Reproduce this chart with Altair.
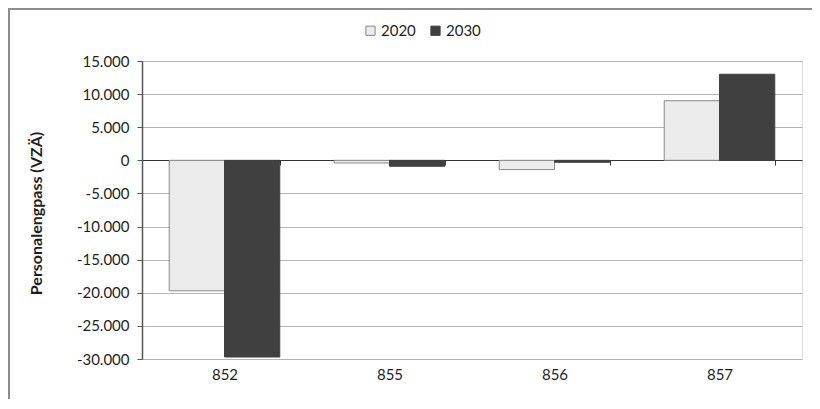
import altair as alt
import pandas as pd

categories = ["852", "855", "856", "857"]
years = ["2020", "2030"]
v2020 = [-19700, -400, -1400, 9000]
v2030 = [-29700, -900, -300, 13000]
y_ticks = [15000, 10000, 5000, 0, -5000, -10000, -15000, -20000, -25000, -30000]

rows = []
for c, a, b in zip(categories, v2020, v2030):
    rows.append({"cat": c, "year": "2020", "value": a})
    rows.append({"cat": c, "year": "2030", "value": b})
df = pd.DataFrame(rows)

FONT = "Lato"
W, H = 660, 298
TXT = "#1e1e1e"

label_expr = "replace(replace(format(datum.value, ','), ',', '.'), '\u2212', '-')"

leg = dict(orient="none", legendX=221, legendY=-38, direction="horizontal",
           symbolType="square", symbolSize=85, labelFont=FONT, labelFontSize=15,
           labelColor=TXT, columnPadding=12, symbolStrokeWidth=1, labelOffset=3)

bars = alt.Chart(df).mark_bar(strokeWidth=1).encode(
    x=alt.X("cat:N", sort=categories, title=None,
            scale=alt.Scale(paddingInner=0.33, paddingOuter=0.165),
            axis=alt.Axis(orient="bottom", offset=-199, domain=True, domainColor="#333333",
                          domainWidth=1.2, ticks=True, tickBand="extent", tickSize=5,
                          tickColor="#333333", labelPadding=202, labelAngle=0,
                          labelFont=FONT, labelFontSize=15, labelColor=TXT, grid=False)),
    xOffset=alt.XOffset("year:N", sort=years, scale=alt.Scale(paddingInner=0, paddingOuter=0)),
    y=alt.Y("value:Q", title="Personalengpass (VZÄ)",
            scale=alt.Scale(domain=[-30000, 15000], nice=False, zero=False),
            axis=alt.Axis(values=y_ticks, labelExpr=label_expr, grid=True, gridColor="#b4b4b4",
                          gridWidth=1, domain=True, domainColor="#555555", domainWidth=1.5,
                          ticks=True, tickSize=5, tickColor="#555555", labelFont=FONT,
                          labelFontSize=15, labelColor=TXT, labelPadding=8,
                          titleFont=FONT, titleFontSize=16, titleFontWeight="bold",
                          titleColor=TXT, titleX=-106, titleY=152,
                          titleAngle=270, titleBaseline="middle", titleAlign="center")),
    fill=alt.Fill("year:N", sort=years, title=None,
                  scale=alt.Scale(domain=years, range=["#ebebeb", "#404040"]),
                  legend=alt.Legend(**leg)),
    stroke=alt.Stroke("year:N", sort=years, title=None,
                      scale=alt.Scale(domain=years, range=["#8a8a8a", "#404040"]),
                      legend=alt.Legend(**leg)),
)

frame = alt.Chart(df).mark_rect(fill=None, stroke="#8c8c8c", strokeWidth=1.5, clip=False).encode(
    x=alt.value(-133), x2=alt.value(W + 60), y=alt.value(-52), y2=alt.value(H + 90)
)

chart = alt.layer(bars, frame).properties(
    width=W, height=H,
    autosize=alt.AutoSizeParams(type="none"),
    padding={"left": 134, "top": 53, "right": 10, "bottom": 40},
).configure_view(stroke=None).configure(background="white")

chart.save("out.html", embed_options={"renderer": "svg", "actions": False})
